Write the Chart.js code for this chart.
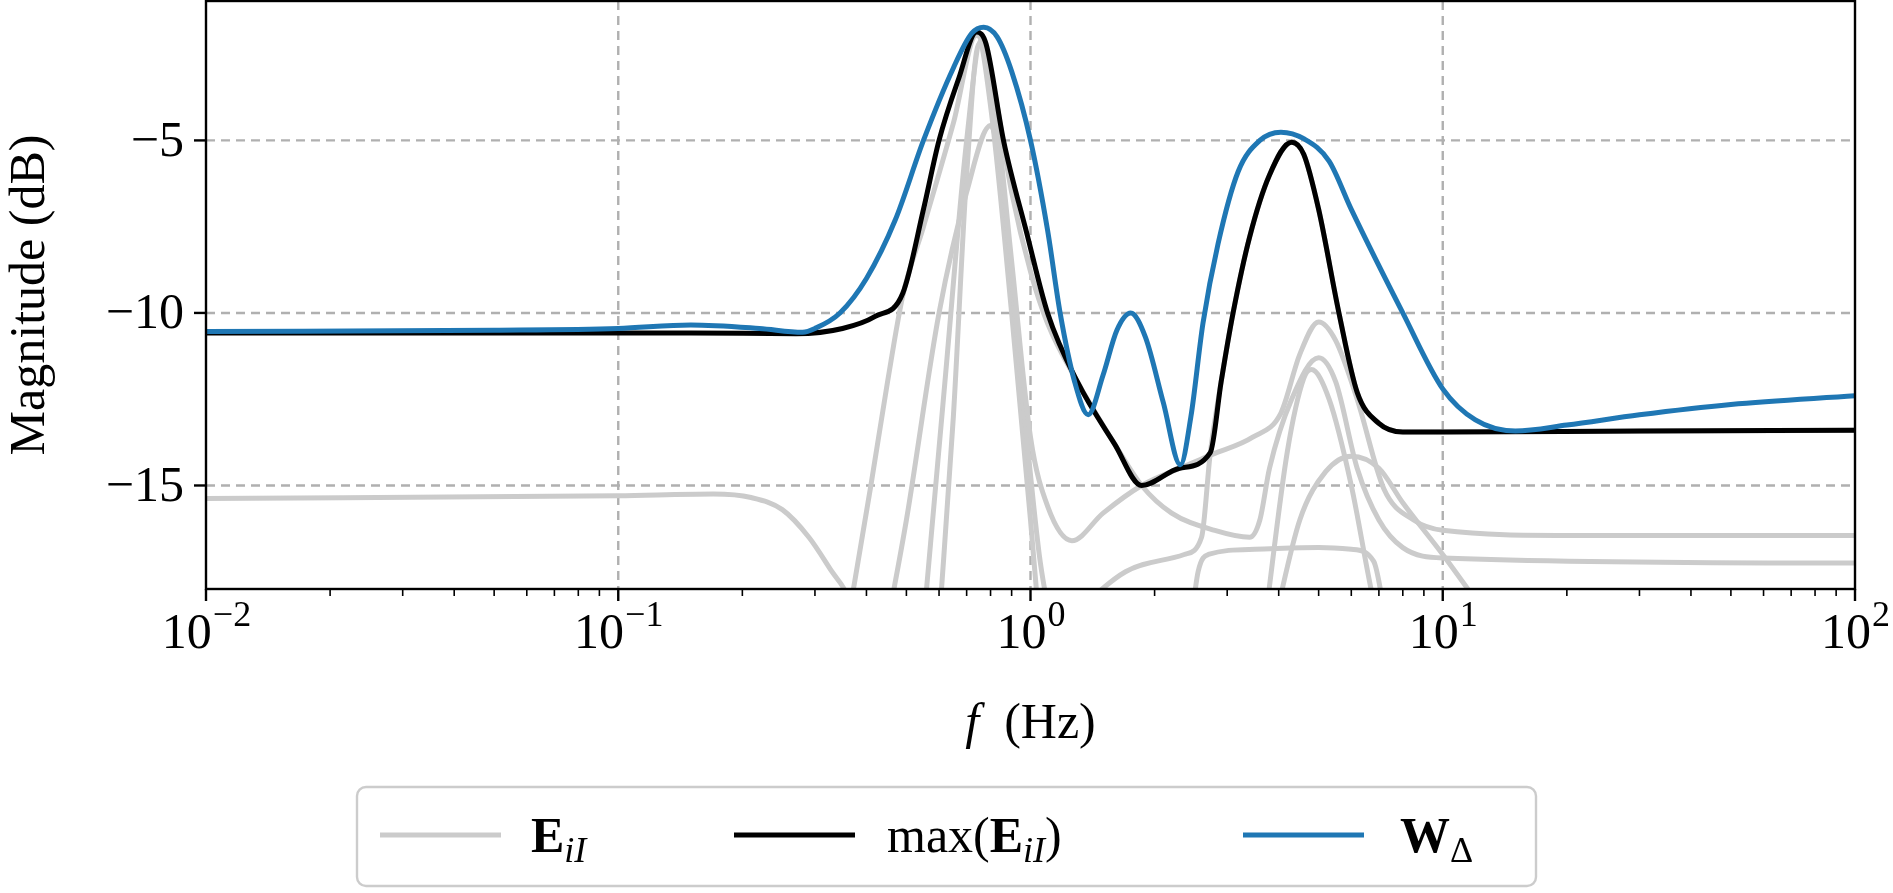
<!DOCTYPE html>
<html><head><meta charset="utf-8">
<script src="https://cdn.jsdelivr.net/npm/chart.js@4"></script>
<style>html,body{margin:0;padding:0;background:#fff}#w{width:1893px;height:893px;position:relative}</style>
</head><body><div id="w"><canvas id="c"></canvas></div>
<script>
// ---- data ----
const xTicks = [0.01, 0.1, 1, 10, 100];
const xTickExp = ['\u22122', '\u22121', '0', '1', '2'];
const yTicks = [-15, -10, -5];
const yTickLabels = ['\u221215', '\u221210', '\u22125'];

const blueF  = [0.01,0.05,0.1,0.15,0.22,0.28,0.3,0.345,0.4,0.47,0.55,0.65,0.72,0.77,0.83,0.9,1.0,1.1,1.18,1.28,1.38,1.5,1.62,1.75,1.9,2.1,2.31,2.45,2.62,2.85,3.19,3.6,4.05,4.6,5.3,6,8,10,12,15,20,30,50,100];
const blueDb = [-10.54,-10.5,-10.45,-10.35,-10.45,-10.56,-10.45,-10.0,-9.0,-7.3,-5.0,-2.9,-1.9,-1.72,-2.0,-3.0,-5.0,-7.6,-10.0,-12.0,-12.95,-11.8,-10.5,-10.0,-10.7,-12.6,-14.4,-13.0,-10.3,-8.0,-5.9,-5.0,-4.76,-4.95,-5.6,-7.0,-10.0,-12.2,-13.1,-13.42,-13.25,-12.95,-12.65,-12.4];

const blackF  = [0.01,0.05,0.15,0.27,0.35,0.42,0.49,0.55,0.6,0.67,0.74,0.78,0.86,0.98,1.1,1.3,1.6,1.86,2.3,2.73,2.9,3.1,3.4,3.8,4.3,4.6,5.0,5.6,6.2,7,8,10,30,100];
const blackDb = [-10.58,-10.58,-10.58,-10.6,-10.45,-10.1,-9.43,-7.0,-5.0,-3.2,-1.86,-2.2,-5.0,-7.7,-10.0,-12.0,-13.8,-15.0,-14.5,-14.05,-12.0,-10.0,-7.8,-6.0,-5.05,-5.4,-7.0,-10.0,-12.3,-13.2,-13.45,-13.45,-13.42,-13.4];

const grayA_F = [0.01,0.1,0.17,0.21,0.25,0.29,0.33,0.36,0.4];
const grayA_Db = [-15.38,-15.3,-15.25,-15.35,-15.7,-16.5,-17.5,-18.2,-20];
const grayH_F = [0.36,0.41,0.45,0.49,0.55,0.65,0.74,0.8,0.9,1.0,1.1,1.3,1.6,1.86,2.2,2.8,3.4,3.6,3.8,4.3,5.0,5.5,6.2,7,8,10,100];
const grayH_Db = [-19,-15,-12,-9.5,-7.5,-4.5,-1.95,-3,-6.5,-8.8,-10.3,-12,-13.8,-15,-15.8,-16.3,-16.5,-16.0,-14.5,-12.5,-11.3,-12,-14.5,-16,-16.8,-17.1,-17.25];
const grayP_F = [0.55,0.62,0.7,0.76,0.82,0.9,1.0,1.1,1.26,1.5,1.86,2.3,2.76,3.46,4.05,4.5,5.0,5.5,6.2,7.2,8.5,10,20,100];
const grayP_Db = [-19,-12,-5,-2.1,-4,-8.5,-13.6,-15.6,-16.6,-15.8,-15,-14.5,-14.1,-13.6,-12.9,-11.2,-10.26,-10.8,-12.5,-15.1,-16,-16.3,-16.45,-16.45];
const grayQ_F = [1.2,1.7,2.36,2.6,2.73,2.9,3.1,3.4,3.8,4.3,4.6,5.0,5.6,6.2,7,8,100];
const grayQ_Db = [-19,-17.5,-17,-16.5,-14.05,-12,-10,-7.8,-6,-5.05,-5.4,-7,-10,-12.3,-13.2,-13.45,-13.4];
const grayI_F = [0.45,0.5,0.6,0.7,0.8,0.85,0.95,1.05,1.12];
const grayI_Db = [-19,-16,-10,-6.5,-4.57,-6,-12,-17,-19];
const grayJ_F = [0.6,0.65,0.7,0.75,0.8,0.9,1.0,1.05];
const grayJ_Db = [-19,-13,-6,-2.2,-4,-10,-16,-19];
const grayD_F = [2.45,2.55,2.7,3.5,5,6,6.8,7.3];
const grayD_Db = [-19,-17.5,-17,-16.85,-16.8,-16.85,-17.2,-19];
const grayG_F = [3.7,4.2,4.6,4.8,5.3,6,6.7,7];
const grayG_Db = [-19,-14,-11.9,-11.64,-12.5,-15,-18,-19];
const grayE_F = [3.9,4.5,5.2,6,7,8,10,12.5];
const grayE_Db = [-19,-16,-14.6,-14.15,-14.5,-15.5,-17,-18.6];

const grays = [[grayA_F,grayA_Db],[grayH_F,grayH_Db],[grayP_F,grayP_Db],[grayQ_F,grayQ_Db],[grayI_F,grayI_Db],[grayJ_F,grayJ_Db],[grayD_F,grayD_Db],[grayG_F,grayG_Db],[grayE_F,grayE_Db]];

const pts = (f, d) => f.map((v, i) => ({x: v, y: d[i]}));
const GRAY = '#cbcbcb', BLUE = '#1f77b4';
const datasets = [];
datasets.push({data: pts(blueF, blueDb), borderColor: BLUE, borderWidth: 5, order: 0});
datasets.push({data: pts(blackF, blackDb), borderColor: '#000', borderWidth: 5, order: 1});
grays.forEach(g => datasets.push({data: pts(g[0], g[1]), borderColor: GRAY, borderWidth: 5, order: 2}));
datasets.forEach(d => { d.pointRadius = 0; d.fill = false; d.cubicInterpolationMode = 'monotone'; });

const SERIF = '"Liberation Serif", "DejaVu Serif", serif';

const deco = {
  id: 'deco',
  beforeDatasetsDraw(chart) {
    const {ctx, chartArea: a, scales: {x, y}} = chart;
    ctx.save();
    ctx.strokeStyle = '#b0b0b0'; ctx.lineWidth = 2.4; ctx.setLineDash([9, 6]);
    xTicks.slice(1, -1).forEach(v => { const px = x.getPixelForValue(v); ctx.beginPath(); ctx.moveTo(px, a.top); ctx.lineTo(px, a.bottom); ctx.stroke(); });
    yTicks.forEach(v => { const py = y.getPixelForValue(v); ctx.beginPath(); ctx.moveTo(a.left, py); ctx.lineTo(a.right, py); ctx.stroke(); });
    ctx.restore();
  },
  afterDraw(chart) {
    const {ctx, chartArea: a, scales: {x, y}} = chart;
    ctx.save();
    ctx.strokeStyle = '#000'; ctx.lineWidth = 2.4; ctx.setLineDash([]);
    ctx.strokeRect(a.left, a.top, a.right - a.left, a.bottom - a.top);
    for (let e = -2; e <= 2; e++) {
      for (let m = 1; m <= 9; m++) {
        const v = m * Math.pow(10, e); if (v > 100) break;
        const px = x.getPixelForValue(v);
        const len = m === 1 ? 12 : 7;
        ctx.lineWidth = m === 1 ? 2.4 : 1.6;
        ctx.beginPath(); ctx.moveTo(px, a.bottom); ctx.lineTo(px, a.bottom + len); ctx.stroke();
      }
    }
    ctx.lineWidth = 2.4;
    yTicks.forEach(v => { const py = y.getPixelForValue(v); ctx.beginPath(); ctx.moveTo(a.left, py); ctx.lineTo(a.left - 12, py); ctx.stroke(); });
    ctx.fillStyle = '#000';
    ctx.font = '50px ' + SERIF; ctx.textAlign = 'right'; ctx.textBaseline = 'middle';
    yTicks.forEach((v, i) => ctx.fillText(yTickLabels[i], a.left - 22, y.getPixelForValue(v) + 2));
    ctx.textBaseline = 'alphabetic'; ctx.textAlign = 'left';
    xTicks.forEach((v, i) => {
      const px = x.getPixelForValue(v);
      ctx.font = '50px ' + SERIF; const w1 = ctx.measureText('10').width;
      ctx.font = '36px ' + SERIF; const w2 = ctx.measureText(xTickExp[i]).width;
      let sx = px - (w1 + w2) / 2;
      if (i === xTicks.length - 1) sx = Math.min(sx, 1893 - w1 - w2 - 2);
      ctx.font = '50px ' + SERIF; ctx.fillText('10', sx, 648);
      ctx.font = '36px ' + SERIF; ctx.fillText(xTickExp[i], sx + w1 + 1, 626);
    });
    const cx = (a.left + a.right) / 2;
    ctx.font = 'italic 50px ' + SERIF; const wf = ctx.measureText('f').width;
    ctx.font = '50px ' + SERIF; const wr = ctx.measureText('  (Hz)').width;
    let sx = cx - (wf + wr) / 2;
    ctx.font = 'italic 50px ' + SERIF; ctx.fillText('f', sx, 738);
    ctx.font = '50px ' + SERIF; ctx.fillText('  (Hz)', sx + wf, 738);
    ctx.save(); ctx.translate(44, (a.top + a.bottom) / 2); ctx.rotate(-Math.PI / 2);
    ctx.textAlign = 'center'; ctx.font = '50px ' + SERIF; ctx.fillText('Magnitude (dB)', 0, 0); ctx.restore();
    ctx.strokeStyle = '#cccccc'; ctx.lineWidth = 2.4;
    const L = 357, T = 787, R = 1536, B = 886, r = 9;
    ctx.beginPath(); ctx.moveTo(L + r, T); ctx.arcTo(R, T, R, B, r); ctx.arcTo(R, B, L, B, r); ctx.arcTo(L, B, L, T, r); ctx.arcTo(L, T, R, T, r); ctx.closePath();
    ctx.fillStyle = 'rgba(255,255,255,0.8)'; ctx.fill(); ctx.stroke();
    const ly = 835;
    const seg = (x0, col) => { ctx.strokeStyle = col; ctx.lineWidth = 5; ctx.beginPath(); ctx.moveTo(x0, ly); ctx.lineTo(x0 + 121, ly); ctx.stroke(); };
    seg(380, GRAY); seg(734, '#000'); seg(1243, BLUE);
    ctx.fillStyle = '#000';
    const bl = 852;
    const run = (x0, parts) => { let xx = x0; parts.forEach(p => { ctx.font = p[1]; ctx.fillText(p[0], xx, bl + (p[2] || 0)); xx += ctx.measureText(p[0]).width; }); };
    run(531, [['E', 'bold 50px ' + SERIF], ['iI', 'italic 36px ' + SERIF, 10]]);
    run(887, [['max(', '50px ' + SERIF], ['E', 'bold 50px ' + SERIF], ['iI', 'italic 36px ' + SERIF, 10], [')', '50px ' + SERIF]]);
    run(1400, [['W', 'bold 50px ' + SERIF], ['\u0394', '36px ' + SERIF, 10]]);
    ctx.restore();
  }
};

new Chart(document.getElementById('c'), {
  type: 'line',
  data: {datasets},
  options: {
    responsive: true, maintainAspectRatio: false, animation: false,
    layout: {padding: {left: 206, right: 38, top: 1, bottom: 304}},
    plugins: {legend: {display: false}, tooltip: {enabled: false}},
    scales: {
      x: {type: 'logarithmic', min: 0.01, max: 100, display: false},
      y: {type: 'linear', min: -18, max: -0.96, display: false}
    }
  },
  plugins: [deco]
});
</script></body></html>
